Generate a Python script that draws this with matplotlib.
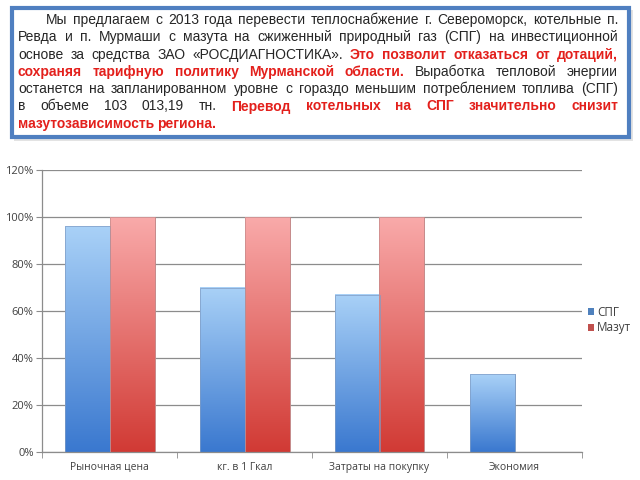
import numpy as np
import matplotlib
matplotlib.use('Agg')
import matplotlib.pyplot as plt
from matplotlib.patches import Rectangle, Patch
from matplotlib.colors import LinearSegmentedColormap
from matplotlib.ticker import PercentFormatter

# data
categories = ['Рыночная цена', 'кг. в 1 Гкал', 'Затраты на покупку', 'Экономия']
spg = [0.96, 0.70, 0.67, 0.33]
mazut = [1.00, 1.00, 1.00, 0.0]
series_names = ['СПГ', 'Мазут']

# header paragraph, line by line: (text, highlighted)
header_lines = [
    [('Мы предлагаем с 2013 года перевести теплоснабжение г. Североморск, котельные п.', False)],
    [('Ревда и п. Мурмаши с мазута на сжиженный природный газ (СПГ) на инвестиционной', False)],
    [('основе за средства ЗАО «РОСДИАГНОСТИКА».', False), ('Это позволит отказаться от дотаций,', True)],
    [('сохраняя тарифную политику Мурманской области.', True), ('Выработка тепловой энергии', False)],
    [('останется на запланированном уровне с гораздо меньшим потреблением топлива (СПГ)', False)],
    [('в объеме 103 013,19 тн.', False), ('Перевод котельных на СПГ значительно снизит', True)],
    [('мазутозависимость региона.', True)],
]

fig = plt.figure(figsize=(6.4, 4.8), dpi=100)
fig.patch.set_facecolor('white')

# ---- header box in pixel coordinates
tax = fig.add_axes([0, 0, 1, 1])
tax.set_xlim(0, 640)
tax.set_ylim(480, 0)
tax.axis('off')

tax.add_patch(Rectangle((14, 10), 619, 131, facecolor='#c8c8c8', edgecolor='none', alpha=0.5, zorder=1))
tax.add_patch(Rectangle((12, 8), 617, 129, facecolor='white', edgecolor='#4f7fc0', lw=3, zorder=2))

renderer = fig.canvas.get_renderer()
left, right = 18, 618
indent = 46
y0, dy = 20, 17.3
fs = 10
for i, line in enumerate(header_lines):
    words = []
    for txt, hl in line:
        for w in txt.split(' '):
            words.append((w, hl))
    arts = []
    for w, hl in words:
        t = tax.text(0, y0 + i * dy, w, fontsize=fs, family='Liberation Sans',
                     color='#e3201c' if hl else '#262626',
                     fontweight='bold' if hl else 'normal',
                     va='center', ha='left', zorder=3)
        arts.append(t)
    widths = [a.get_window_extent(renderer).width for a in arts]
    x = indent if i == 0 else left
    last = i == len(header_lines) - 1
    if last or len(arts) < 2:
        gap = fs * 0.28
    else:
        gap = (right - x - sum(widths)) / (len(arts) - 1)
    for a, w in zip(arts, widths):
        a.set_x(x)
        x += w + gap

# ---- bar chart
ax = fig.add_axes([42 / 640, 28 / 480, 540 / 640, 282 / 480])
x = np.arange(len(categories))
bw = 1 / 3
b1 = ax.bar(x - bw / 2, spg, bw, color='#4f81bd', edgecolor='#7f9cc4', lw=0.5, zorder=2)
b2 = ax.bar(x + bw / 2, mazut, bw, color='#c0504d', edgecolor='#c48a8a', lw=0.5, zorder=2)

blue_cm = LinearSegmentedColormap.from_list('b', ['#3a78cf', '#a9d1f7'])
red_cm = LinearSegmentedColormap.from_list('r', ['#d13a34', '#f9aaaa'])
grad = np.linspace(0, 1, 256).reshape(-1, 1)
for bars, cm in ((b1, blue_cm), (b2, red_cm)):
    for r in bars:
        h = r.get_height()
        if h <= 0:
            continue
        x0 = r.get_x()
        ax.imshow(grad, extent=[x0, x0 + r.get_width(), 0, h], origin='lower',
                  aspect='auto', cmap=cm, zorder=2.5)
        ax.add_patch(Rectangle((x0, 0), r.get_width(), h, fill=False,
                               edgecolor=r.get_edgecolor(), lw=0.5, zorder=2.6))

ax.set_xlim(-0.5, len(categories) - 0.5)
ax.set_ylim(0, 1.2)
ax.set_yticks(np.arange(0, 1.21, 0.2))
ax.yaxis.set_major_formatter(PercentFormatter(1.0, decimals=0))
ax.grid(axis='y', color='#8c8c8c', lw=0.9, zorder=0)
ax.set_axisbelow(True)
for s in ['top', 'right']:
    ax.spines[s].set_visible(False)
for s in ['left', 'bottom']:
    ax.spines[s].set_color('#8c8c8c')
    ax.spines[s].set_linewidth(0.9)
ax.set_xticks(x)
ax.set_xticklabels(categories)
ax.set_xticks(np.arange(-0.5, len(categories)), minor=True)
ax.tick_params(axis='x', which='major', length=0, pad=7, labelsize=7.5, labelcolor='#404040')
ax.tick_params(axis='x', which='minor', length=4, color='#8c8c8c', direction='out')
ax.tick_params(axis='y', length=4, color='#8c8c8c', labelsize=8, labelcolor='#404040', pad=2)
for lab in ax.get_xticklabels() + ax.get_yticklabels():
    lab.set_family('Open Sans')

handles = [Patch(facecolor='#4f81bd'), Patch(facecolor='#c0504d')]
fig.legend(handles, series_names, loc='upper left', bbox_to_anchor=(588 / 640, 1 - 306 / 480),
           frameon=False, handlelength=0.5, handleheight=0.5, handletextpad=0.25,
           labelspacing=0.2, borderaxespad=0, borderpad=0,
           prop={'family': 'Open Sans', 'size': 8.5}, labelcolor='#404040')

fig.savefig('out.png', dpi=100)
